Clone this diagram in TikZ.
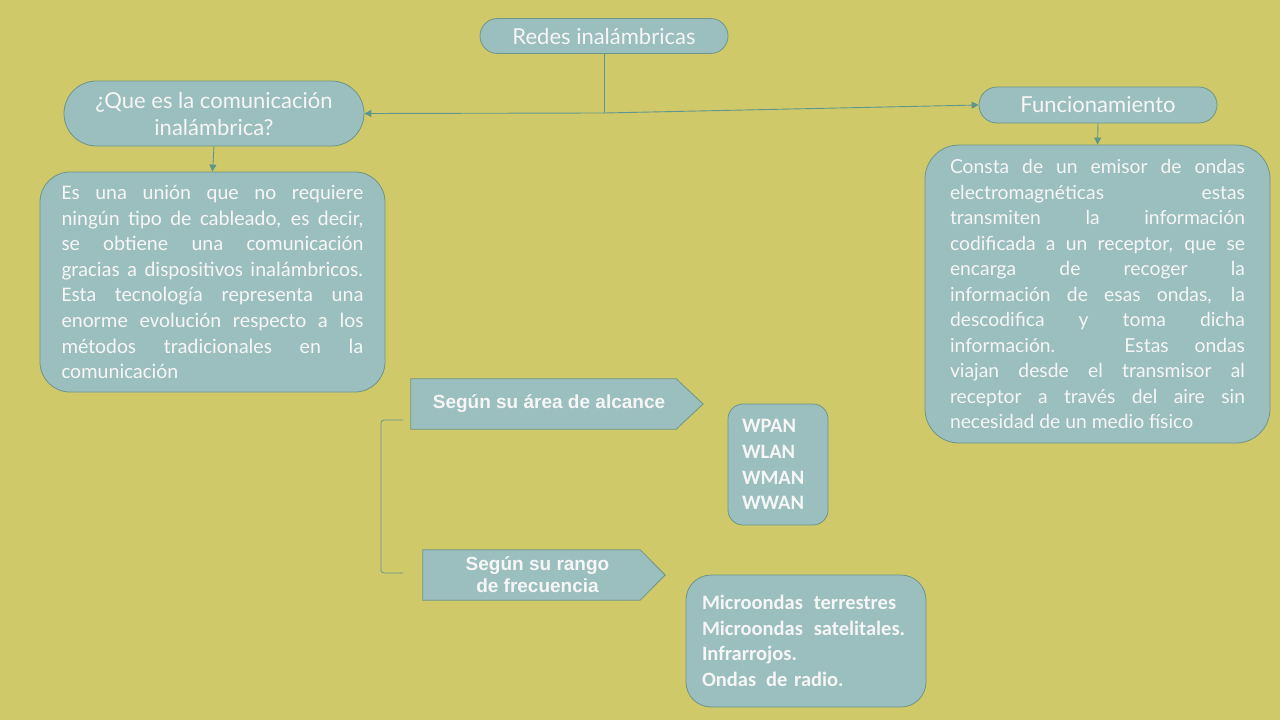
\documentclass[tikz,border=0pt]{standalone}
\usepackage{fontspec}
\setmainfont{Lato}
\newfontfamily\carl{Carlito}
\newfontfamily\arialf{Liberation Sans}
\usetikzlibrary{shapes.misc,arrows.meta,backgrounds}
\tolerance=10000\relax
\hyphenpenalty=10000\relax
\exhyphenpenalty=10000\relax
\definecolor{bgcol}{RGB}{208,201,106}
\definecolor{nfill}{RGB}{155,190,190}
\definecolor{nline}{RGB}{110,150,135}
\definecolor{conncol}{RGB}{95,150,140}
\definecolor{txt}{RGB}{246,246,246}
\tikzset{
  capsule/.style={rounded rectangle, draw=nline, fill=nfill, text=txt, line width=0.8pt,
    font=\fontsize{22}{27}\selectfont, inner sep=0pt, align=center},
  tbox/.style={rectangle, draw=nline, fill=nfill, text=txt, line width=0.8pt, inner sep=0pt, align=justify},
  sigtext/.style={text=txt, inner sep=0pt, align=center, font=\arialf\bfseries\fontsize{19}{22}\selectfont},
  sigshape/.style={draw=nline, fill=nfill, line width=0.8pt},
  conn/.style={draw=conncol, line width=0.9pt, -{Triangle[length=7pt,width=7pt]}},
  plain/.style={draw=conncol, line width=0.9pt},
}
\begin{document}
\begin{tikzpicture}[x=1pt,y=-1pt]
% capsules
\node[capsule, minimum width=248pt, minimum height=35pt] (redes) at (604,36) {Redes inalámbricas};
\node[capsule, minimum width=300pt, minimum height=65pt] (que) at (214,113.5) {¿Que es la comunicación\\inalámbrica?};
\node[capsule, minimum width=238pt, minimum height=36pt] (func) at (1098,105) {Funcionamiento};
% text boxes
\node[tbox, rounded corners=30pt, minimum width=345pt, minimum height=220pt, text width=302pt,
  font=\carl\fontsize{20.8}{25.6}\selectfont] (def) at (212.5,282)
{Es una unión que no requiere\linebreak
ningún tipo de cableado, es decir,\linebreak
se obtiene una comunicación\linebreak
gracias a dispositivos inalámbricos.\linebreak
Esta tecnología representa una\linebreak
enorme evolución respecto a los\linebreak
métodos tradicionales en la\linebreak
comunicación};
\node[tbox, rounded corners=34pt, minimum width=345pt, minimum height=298pt, text width=295pt,
  font=\fontsize{19.3}{25.5}\selectfont] (fdesc) at (1097.5,294)
{Consta de un emisor de ondas\linebreak
electromagnéticas estas\linebreak
transmiten la información\linebreak
codificada a un receptor, que se\linebreak
encarga de recoger la\linebreak
información de esas ondas, la\linebreak
descodifica y toma dicha\linebreak
información. Estas ondas\linebreak
viajan desde el transmisor al\linebreak
receptor a través del aire sin\linebreak
necesidad de un medio físico};
% pentagon arrows
\node[sigtext, minimum width=265pt, minimum height=50pt] (alc) at (543.5,404) {\hspace*{11pt}Según su área de alcance};
\node[sigtext, minimum width=217pt, minimum height=50pt] (frec) at (531.5,575) {\hspace*{12pt}Según su rango\\\hspace*{12pt}de frecuencia};
\begin{scope}[on background layer]
\fill[bgcol] (0,0) rectangle (1280,720);
\draw[sigshape] (alc.north west) -- (alc.north east) -- ([xshift=27pt]alc.east) -- (alc.south east) -- (alc.south west) -- cycle;
\draw[sigshape] (frec.north west) -- (frec.north east) -- ([xshift=25pt]frec.east) -- (frec.south east) -- (frec.south west) -- cycle;
\end{scope}
% lists
\node[tbox, rounded corners=15pt, minimum width=100pt, minimum height=121pt, text width=72pt, inner xsep=14pt, align=left,
  font=\carl\bfseries\fontsize{20.5}{25.7}\selectfont] (area) at (778,464.5)
{WPAN\\WLAN\\WMAN\\WWAN};
\node[tbox, rounded corners=25pt, minimum width=240pt, minimum height=132pt, text width=208pt, inner xsep=16pt, align=left,
  font=\carl\bfseries\fontsize{20.5}{25.7}\selectfont] (ondas) at (806,641)
{Microondas\hspace{4pt} terrestres\\Microondas\hspace{4pt} satelitales.\\Infrarrojos.\\Ondas\hspace{3pt} de radio.};
% bracket
\coordinate (bt) at (403,420);
\coordinate (bb) at (403,573);
\draw[plain, line width=0.7pt, rounded corners=3pt] (bt) -- (381,420) -- (381,573) -- (bb);
% connectors
\draw[plain] (redes.south) -- (604,113) coordinate (j);
\draw[conn] (j) -- (que.east);
\draw[conn] (j) -- (func.west);
\draw[conn] (que.south) -- (def.north);
\draw[conn] (func.south) -- (fdesc.north);
\end{tikzpicture}
\end{document}
